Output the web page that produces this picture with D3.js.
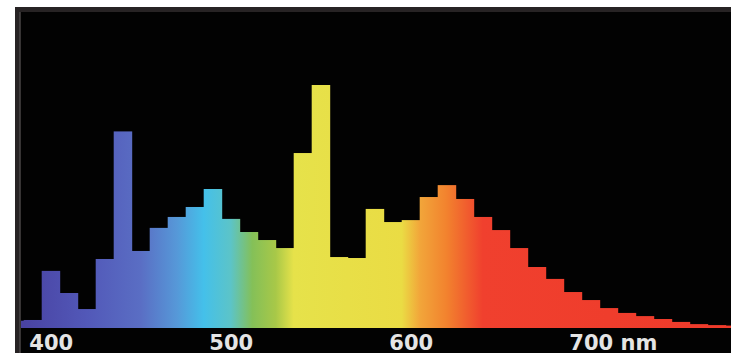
<!DOCTYPE html>
<html>
<head>
<meta charset="utf-8">
<script src="https://cdn.jsdelivr.net/npm/d3@7"></script>
<style>
  body { margin: 0; background: #fff; }
  svg { display: block; }
</style>
</head>
<body>
<svg id="svg"></svg>
<script>
// spectrum bins, 10 nm wide, centred on each wavelength
const wavelengths = [380, 390, 400, 410, 420, 430, 440, 450, 460, 470, 480, 490,
  500, 510, 520, 530, 540, 550, 560, 570, 580, 590, 600, 610, 620, 630, 640,
  650, 660, 670, 680, 690, 700, 710, 720, 730, 740, 750, 760, 770, 780];
// relative intensity, 546 nm line = 100
const intensity = [3.0, 3.3, 23.5, 14.4, 7.8, 28.4, 80.9, 31.7, 41.2, 45.7, 49.8, 57.2,
  44.9, 39.5, 36.2, 32.9, 72.0, 100, 29.2, 28.8, 49.0, 43.6, 44.4, 53.9, 58.8, 53.1, 45.7,
  40.3, 32.9, 25.1, 20.2, 14.8, 11.5, 8.2, 6.2, 4.9, 3.7, 2.5, 1.6, 1.2, 1.0];
const tickValues = [400, 500, 600, 700];
const tickLabels = ['400', '500', '600', '700'];
const unitLabel = 'nm';

const width = 731, height = 355;
const panel = {x: 15, y: 7, right: 731, bottom: 353};
const baseline = 328;

const svg = d3.select('#svg')
  .attr('width', width)
  .attr('height', height);

// frame
svg.append('rect')
  .attr('x', panel.x).attr('y', panel.y)
  .attr('width', panel.right - panel.x + 5).attr('height', panel.bottom - panel.y)
  .attr('fill', '#272324');
svg.append('rect')
  .attr('x', panel.x + 5).attr('y', panel.y + 5)
  .attr('width', panel.right - panel.x).attr('height', panel.bottom - panel.y - 5)
  .attr('fill', '#020202');
svg.append('line')
  .attr('x1', panel.x + 5).attr('x2', panel.x + 5)
  .attr('y1', panel.y + 5).attr('y2', panel.bottom)
  .attr('stroke', '#4a4646').attr('stroke-width', 1.5);

const xScale = d3.scaleLinear()
  .domain([400, 700])
  .range([50.7, 590.7]);

const yScale = d3.scaleLinear()
  .domain([0, 100])
  .range([baseline, 85]);

// wavelength colour ramp
const stopNm = [380, 420, 450, 470, 485, 500, 512, 525, 535, 595, 605, 620, 640, 780];
const stopColor = ['#4840a0', '#5258b8', '#5a6ec4', '#5698d8', '#44c0ea', '#5cc4c8',
  '#84c058', '#a8c848', '#e6e24a', '#eadc44', '#f2a63a', '#f2822e', '#f0402e', '#ee3a2a'];

const defs = svg.append('defs');
const grad = defs.append('linearGradient')
  .attr('id', 'spec')
  .attr('gradientUnits', 'userSpaceOnUse')
  .attr('x1', xScale(380)).attr('x2', xScale(780))
  .attr('y1', 0).attr('y2', 0);
grad.selectAll('stop')
  .data(stopNm)
  .enter()
  .append('stop')
  .attr('offset', d => (d - 380) / 400)
  .attr('stop-color', (d, i) => stopColor[i]);

defs.append('clipPath').attr('id', 'clip')
  .append('rect')
  .attr('x', panel.x + 6).attr('y', panel.y + 5)
  .attr('width', panel.right - panel.x - 6).attr('height', panel.bottom - panel.y);

// bars
svg.append('g')
  .attr('clip-path', 'url(#clip)')
  .selectAll('rect')
  .data(wavelengths)
  .enter()
  .append('rect')
  .attr('x', d => xScale(d - 5))
  .attr('width', d => xScale(d + 5) - xScale(d - 5) + 0.5)
  .attr('y', (d, i) => yScale(intensity[i]))
  .attr('height', (d, i) => yScale(0) - yScale(intensity[i]))
  .attr('fill', 'url(#spec)');

// axis labels
const xAxis = d3.axisBottom(xScale)
  .tickValues(tickValues)
  .tickSize(0)
  .tickFormat((d, i) => tickLabels[i]);

const axisG = svg.append('g')
  .attr('transform', `translate(0,${baseline})`)
  .call(xAxis);
axisG.select('.domain').remove();
axisG.selectAll('text')
  .attr('y', 22)
  .attr('dy', 0)
  .attr('fill', '#e4e4e4')
  .style('font-family', '"DejaVu Sans", sans-serif')
  .style('font-weight', 'bold')
  .style('font-size', '21px');

// unit after the last label, keeping the number centred on its tick
const lastText = axisG.selectAll('.tick text').filter((d, i, n) => i === n.length - 1);
const numWidth = lastText.node().getComputedTextLength();
lastText.attr('text-anchor', 'start').attr('x', -numWidth / 2);
lastText.append('tspan').text(' ' + unitLabel);
</script>
</body>
</html>
